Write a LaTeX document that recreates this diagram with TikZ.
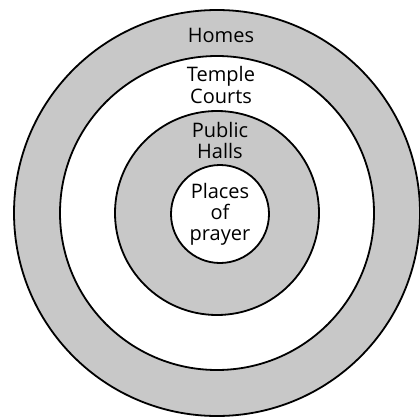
\documentclass[tikz,border=0pt]{standalone}
\usepackage{fontspec}
\setmainfont{Open Sans}
\usepackage{xcolor}
\definecolor{ringgray}{HTML}{C8C8C8}
\tikzset{
  ring/.style={circle,draw=black,line width=1.8pt,inner sep=0pt},
  band/.style={ring,fill=ringgray},
  gap/.style={ring,fill=white},
  lbl/.style={align=center,inner sep=0pt,font=\fontsize{20}{21}\selectfont}
}
\begin{document}
\begin{tikzpicture}[x=1pt,y=1pt]
\useasboundingbox (0,0) rectangle (420,416);
\coordinate (c) at (217,203);
\node[band,minimum size=406pt] (homes) at (c) {};
\node[gap,minimum size=314pt] (courts) at (c) {};
\node[band,minimum size=204pt] (halls) at (c) {};
\node[gap,minimum size=98pt,lbl] (prayer) at (220,202) {Places\\of\\prayer};
\node[lbl] (homeslbl) at (221,381) {Homes};
\node[lbl] (courtslbl) at (221,331) {Temple\\Courts};
\node[lbl] (hallslbl) at (220,276) {Public\\Halls};
\end{tikzpicture}
\end{document}
